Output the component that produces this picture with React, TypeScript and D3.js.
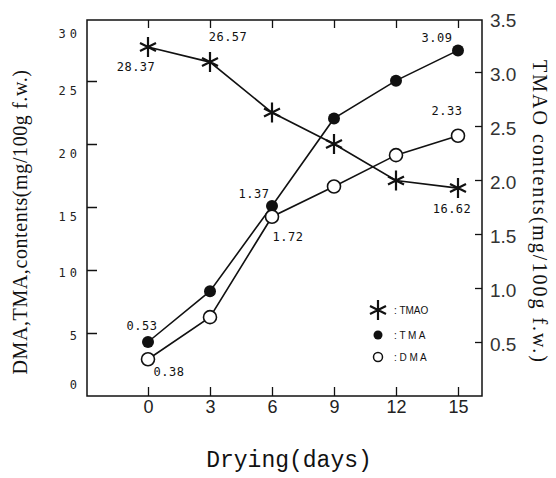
import React, { useEffect, useRef } from 'react';
import * as d3 from 'd3';

// drying days
const days = [0, 3, 6, 9, 12, 15];
// TMAO read on the left axis, TMA / DMA on the right axis (as drawn)
const tmao = [27.7, 26.5, 22.5, 20.0, 17.1, 16.5];
const tma = [0.5, 0.97, 1.76, 2.57, 2.92, 3.2];
const dma = [0.34, 0.73, 1.66, 1.94, 2.23, 2.41];

const leftTicks = [0, 5, 10, 15, 20, 25, 30];
const rightTicks = [0.5, 1, 1.5, 2, 2.5, 3, 3.5];

// value annotations: series, point index, text
const annotations = [
  { s: 'tmao', i: 0, text: '28.37', dx: -12, dy: 20 },
  { s: 'tmao', i: 1, text: '26.57', dx: 18, dy: -25 },
  { s: 'tmao', i: 5, text: '16.62', dx: -6, dy: 21 },
  { s: 'tma', i: 0, text: '0.53', dx: -6, dy: -16 },
  { s: 'tma', i: 2, text: '1.37', dx: -18, dy: -12 },
  { s: 'tma', i: 5, text: '3.09', dx: -21, dy: -13 },
  { s: 'dma', i: 0, text: '0.38', dx: 21, dy: 13 },
  { s: 'dma', i: 2, text: '1.72', dx: 16, dy: 20 },
  { s: 'dma', i: 5, text: '2.33', dx: -11, dy: -25 },
];

const ink = '#111';

const starPath = (cx: number, cy: number, h: number, w: number, v: number) =>
  `M${cx},${cy - v}L${cx},${cy + v}M${cx - w},${cy - h}L${cx + w},${cy + h}M${cx - w},${cy + h}L${cx + w},${cy - h}`;

const App = () => {
  const svgRef = useRef<SVGSVGElement>(null);

  useEffect(() => {
    const svg = d3.select(svgRef.current);
    svg.selectAll('*').remove();

    const left = 87, right = 482, top = 18, bottom = 396;

    const x = d3.scaleLinear().domain([0, 15]).range([148, 458]);
    const yL = d3.scaleLinear().domain([0, 30]).range([bottom, top]);
    const yR = d3.scaleLinear().domain([0, 3.5]).range([bottom, top]);

    // frame
    svg.append('rect')
      .attr('x', left).attr('y', top + 2)
      .attr('width', right - left).attr('height', bottom - top - 2)
      .attr('fill', 'none').attr('stroke', ink).attr('stroke-width', 1.5);

    // bottom axis (ticks inside)
    const gx = svg.append('g').attr('transform', `translate(0,${bottom})`)
      .call(d3.axisBottom(x).tickValues(days).tickSizeInner(-9).tickSizeOuter(0).tickPadding(4));
    gx.select('.domain').remove();
    gx.selectAll('line').attr('stroke', ink).attr('stroke-width', 1.3);
    gx.selectAll('text')
      .style('font-family', 'Liberation Sans, Arial, sans-serif')
      .style('font-size', '18px').attr('fill', '#222');

    // top ticks
    const gt = svg.append('g').attr('transform', `translate(0,${top + 2})`)
      .call(d3.axisTop(x).tickValues(days).tickSizeInner(-8).tickSizeOuter(0).tickFormat(() => ''));
    gt.select('.domain').remove();
    gt.selectAll('line').attr('stroke', ink).attr('stroke-width', 1.3);

    // left axis
    const gl = svg.append('g').attr('transform', `translate(${left},0)`)
      .call(d3.axisLeft(yL).tickValues(leftTicks).tickSizeInner(-10).tickSizeOuter(0).tickPadding(6));
    gl.select('.domain').remove();
    gl.selectAll('line').attr('stroke', ink).attr('stroke-width', 1.5)
      .attr('opacity', (d: any) => (d === 0 || d === 30 ? 0 : 1));
    gl.selectAll('text')
      .style('font-family', 'DejaVu Sans Mono, monospace')
      .style('font-size', '12px').style('letter-spacing', '4px')
      .attr('fill', '#222')
      .attr('dy', (d: any) => (d === 30 ? '1.6em' : d === 0 ? '-0.6em' : d >= 15 ? '1.1em' : '0.55em'));

    // right axis
    const gr = svg.append('g').attr('transform', `translate(${right},0)`)
      .call(d3.axisRight(yR).tickValues(rightTicks).tickSizeInner(-7).tickSizeOuter(0).tickPadding(8));
    gr.select('.domain').remove();
    gr.selectAll('line').attr('stroke', ink).attr('stroke-width', 1.3)
      .attr('opacity', (d: any) => (d === 3.5 ? 0 : 1));
    gr.selectAll('text')
      .style('font-family', 'Liberation Sans, Arial, sans-serif')
      .style('font-size', '19px').attr('fill', '#333')
      .attr('dy', '0.45em');

    const line = (ys: number[], scale: d3.ScaleLinear<number, number>) =>
      d3.line<number>().x((_, i) => x(days[i])).y(d => scale(d))(ys);

    const plot = svg.append('g');
    plot.append('path').attr('d', line(tmao, yL)).attr('fill', 'none').attr('stroke', ink).attr('stroke-width', 1.6);
    plot.append('path').attr('d', line(tma, yR)).attr('fill', 'none').attr('stroke', ink).attr('stroke-width', 1.6);
    plot.append('path').attr('d', line(dma, yR)).attr('fill', 'none').attr('stroke', ink).attr('stroke-width', 1.6);

    // markers
    plot.selectAll('.tma').data(tma).enter().append('circle')
      .attr('cx', (_, i) => x(days[i])).attr('cy', d => yR(d)).attr('r', 6).attr('fill', ink);
    plot.selectAll('.dma').data(dma).enter().append('circle')
      .attr('cx', (_, i) => x(days[i])).attr('cy', d => yR(d)).attr('r', 6.5)
      .attr('fill', '#fff').attr('stroke', ink).attr('stroke-width', 1.6);
    plot.selectAll('.tmao').data(tmao).enter().append('path')
      .attr('d', (d, i) => starPath(x(days[i]), yL(d), 4, 8, 10))
      .attr('fill', 'none').attr('stroke', ink).attr('stroke-width', 2.2);

    // value annotations
    const seriesPos: Record<string, (i: number) => [number, number]> = {
      tmao: i => [x(days[i]), yL(tmao[i])],
      tma: i => [x(days[i]), yR(tma[i])],
      dma: i => [x(days[i]), yR(dma[i])],
    };
    svg.selectAll('.ann').data(annotations).enter().append('text')
      .attr('x', d => seriesPos[d.s](d.i)[0] + d.dx)
      .attr('y', d => seriesPos[d.s](d.i)[1] + d.dy)
      .attr('dy', '0.35em')
      .attr('text-anchor', 'middle')
      .style('font-family', 'DejaVu Sans Mono, monospace')
      .style('font-size', '12px').style('letter-spacing', '0.5px')
      .attr('fill', '#111')
      .text(d => d.text);

    // legend
    const lg = svg.append('g');
    const lx = 378;
    const legendItems = [
      { y: 310, label: ': TMAO' },
      { y: 335, label: ': T M A' },
      { y: 357, label: ': D M A' },
    ];
    lg.append('path').attr('d', starPath(lx, 310, 4, 8, 10))
      .attr('fill', 'none').attr('stroke', ink).attr('stroke-width', 2.2);
    lg.append('circle').attr('cx', lx).attr('cy', 335).attr('r', 4.5).attr('fill', ink);
    lg.append('circle').attr('cx', lx).attr('cy', 357).attr('r', 4.5)
      .attr('fill', '#fff').attr('stroke', ink).attr('stroke-width', 1.5);
    lg.selectAll('.lt').data(legendItems).enter().append('text')
      .attr('x', lx + 16).attr('y', d => d.y).attr('dy', '0.35em')
      .style('font-family', 'Liberation Sans, Arial, sans-serif')
      .style('font-size', '10px').attr('fill', '#111')
      .text(d => d.label);

    // axis titles
    svg.append('text')
      .attr('transform', 'translate(27,222) rotate(-90)')
      .attr('text-anchor', 'middle')
      .style('font-family', 'Liberation Serif, Times New Roman, serif')
      .style('font-size', '20px').style('letter-spacing', '0.6px').attr('fill', '#111')
      .text('DMA,TMA,contents(mg/100g f.w.)');

    svg.append('text')
      .attr('transform', 'translate(533,212) rotate(90)')
      .attr('text-anchor', 'middle')
      .style('font-family', 'Liberation Serif, Times New Roman, serif')
      .style('font-size', '20px').style('letter-spacing', '2px').attr('fill', '#111')
      .text('TMAO contents(mg/100g f.w.)');

    svg.append('text')
      .attr('x', 289).attr('y', 467)
      .attr('text-anchor', 'middle')
      .style('font-family', 'Liberation Mono, Courier New, monospace')
      .style('font-size', '23px').attr('fill', '#111')
      .text('Drying(days)');
  }, []);

  return (
    <svg
      ref={svgRef}
      width={556}
      height={478}
      style={{ position: 'absolute', left: 0, top: 0, background: '#fff' }}
    />
  );
};

export default App;
